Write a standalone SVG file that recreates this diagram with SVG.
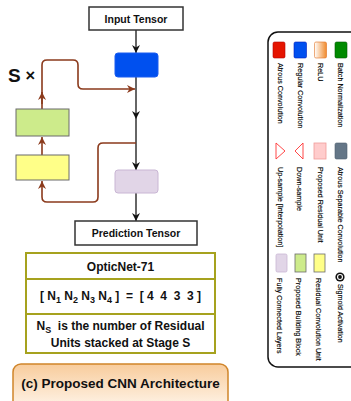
<svg xmlns="http://www.w3.org/2000/svg" width="351" height="401" viewBox="0 0 351 401">
<style>
.box{fill:#fff;stroke:#333;stroke-width:1.5}
.t{font-family:"Liberation Sans",Arial,sans-serif;font-weight:bold;fill:#111}
.main{fill:none;stroke:#333;stroke-width:1.5}
.br{fill:none;stroke:#8b3a1c;stroke-width:1.6}
.lg{font-family:"Liberation Sans",Arial,sans-serif;font-size:7.2px;fill:#000;stroke:#000;stroke-width:0.15}
.tb{fill:none;stroke:#a6a21e;stroke-width:2}
</style>
<defs>
<marker id="ab" viewBox="0 0 10 10" refX="10" refY="5" markerWidth="8" markerHeight="8" markerUnits="userSpaceOnUse" orient="auto"><path d="M0,0 L10,5 L0,10 L3,5 z" fill="#111"/></marker>
<marker id="ar" viewBox="0 0 10 10" refX="10" refY="5" markerWidth="8" markerHeight="8" markerUnits="userSpaceOnUse" orient="auto"><path d="M0,0 L10,5 L0,10 L3,5 z" fill="#8b3a1c"/></marker>
<linearGradient id="relu" x1="0" y1="0" x2="1" y2="0"><stop offset="0" stop-color="#fff"/><stop offset="1" stop-color="#f08a2c"/></linearGradient>
<linearGradient id="cap" x1="0" y1="0" x2="0" y2="1"><stop offset="0" stop-color="#f8cc9c"/><stop offset="1" stop-color="#fff6ec"/></linearGradient>
</defs>

<g id="connectors">
<line class="main" x1="136" y1="30" x2="136" y2="53" marker-end="url(#ab)"/>
<line class="main" x1="136" y1="77" x2="136" y2="119" marker-end="url(#ab)"/>
<line class="main" x1="136" y1="119" x2="136" y2="170" marker-end="url(#ab)"/>
<line class="main" x1="136" y1="193" x2="136" y2="221" marker-end="url(#ab)"/>
<path class="br" d="M136,143 H103 Q98,143 98,148 V197 Q98,202 93,202 H47 Q42,202 42,197 V181" marker-end="url(#ar)"/>
<path class="br" d="M42,155 V137" marker-end="url(#ar)"/>
<path class="br" d="M42,109 V65 Q42,60 47,60 H73 Q78,60 78,65 V84 Q78,89 83,89 H135" marker-end="url(#ar)"/>
<path class="br" d="M42,104 V92" marker-end="url(#ar)"/>
</g>

<g id="input-tensor"><rect class="box" x="89" y="7" width="94" height="23"/><text class="t" x="136" y="22.5" font-size="10.5" text-anchor="middle">Input Tensor</text></g>
<g id="regular-conv"><rect x="115" y="53" width="43" height="24" rx="3" fill="#0050ef" stroke="#1a5cf0"/></g>
<g id="fc-layer"><rect x="115" y="170" width="43" height="23" rx="3" fill="#e1d5e7" stroke="#c9b6d4"/></g>
<g id="prediction-tensor"><rect class="box" x="75" y="221" width="122" height="24"/><text class="t" x="136" y="237" font-size="10.5" text-anchor="middle">Prediction Tensor</text></g>
<g id="building-block"><rect x="16" y="109" width="53" height="27" fill="#cdeb8b" stroke="#6b6b6b"/></g>
<g id="residual-conv"><rect x="16" y="155" width="53" height="25" fill="#ffff88" stroke="#6b6b6b"/></g>
<g id="s-times"><text class="t" x="8" y="82" font-size="19">S</text><text class="t" x="25.5" y="81" font-size="16.5">×</text></g>

<g id="table">
<rect class="tb" x="26" y="253" width="189" height="100"/>
<line class="tb" x1="26" y1="279" x2="215" y2="279"/>
<line class="tb" x1="26" y1="314" x2="215" y2="314"/>
<text class="t" x="120.5" y="271" font-size="12" text-anchor="middle">OpticNet-71</text>
<text class="t" x="120.5" y="300" font-size="12" text-anchor="middle" style="white-space:pre">[ N<tspan font-size="9" dy="3">1</tspan><tspan dy="-3"> N</tspan><tspan font-size="9" dy="3">2</tspan><tspan dy="-3"> N</tspan><tspan font-size="9" dy="3">3</tspan><tspan dy="-3"> N</tspan><tspan font-size="9" dy="3">4</tspan><tspan dy="-3"> ]  =  [ 4  4  3  3 ]</tspan></text>
<text class="t" x="120.5" y="330" font-size="12" text-anchor="middle" style="white-space:pre">N<tspan font-size="9" dy="3">S</tspan><tspan dy="-3">  is the number of Residual</tspan></text>
<text class="t" x="120.5" y="347" font-size="12" text-anchor="middle">Units stacked at Stage S</text>
</g>

<g id="caption"><rect x="13" y="364" width="215" height="46" rx="8" fill="url(#cap)" stroke="#d0852a" stroke-width="1.5"/><text class="t" x="120.5" y="388" font-size="13.5" text-anchor="middle">(c) Proposed CNN Architecture</text></g>

<g id="legend">
<rect x="268" y="32" width="110" height="335" rx="10" fill="#fff" stroke="#111" stroke-width="1.5"/>
<rect x="273" y="42" width="12" height="16" rx="1.5" fill="#e51400" stroke="#b20000" stroke-width="0.6"/>
<rect x="294" y="42" width="12.5" height="16" rx="1.5" fill="#0050ef" stroke="#001dbc" stroke-width="0.6"/>
<rect x="314.5" y="42" width="12" height="16" rx="1.5" fill="url(#relu)" stroke="#e07020" stroke-width="0.6"/>
<rect x="335" y="42" width="12" height="16" rx="1.5" fill="#008a00" stroke="#005700" stroke-width="0.6"/>
<text class="lg" transform="translate(277.5,63) rotate(90)">Atrous Convolution</text>
<text class="lg" transform="translate(297.5,63) rotate(90)">Regular Convolution</text>
<text class="lg" transform="translate(317.5,63) rotate(90)">ReLU</text>
<text class="lg" transform="translate(337.5,63) rotate(90)">Batch Normalization</text>
<polygon points="276,143 276,159 285,151" fill="#fff" stroke="#ff3333" stroke-width="0.9"/>
<polygon points="303,143 303,159 295,151" fill="#fff" stroke="#ff3333" stroke-width="0.9"/>
<rect x="314" y="143" width="12" height="16" fill="#ffcccc" stroke="#f19c99" stroke-width="0.8"/>
<rect x="335" y="143" width="12" height="16" rx="1.5" fill="#647687" stroke="#4f5f6f" stroke-width="0.6"/>
<text class="lg" transform="translate(277.5,167) rotate(90)">Up-sample [Interpolation]</text>
<text class="lg" transform="translate(297,167) rotate(90)">Down-sample</text>
<text class="lg" transform="translate(317.5,167) rotate(90)">Proposed Residual Unit</text>
<text class="lg" transform="translate(337.5,167) rotate(90)">Atrous Separable Convolution</text>
<rect x="276" y="254" width="11" height="18" rx="1.5" fill="#e1d5e7" stroke="#c9b6d4" stroke-width="0.8"/>
<rect x="295" y="254" width="11" height="18" fill="#cdeb8b" stroke="#6b6b6b" stroke-width="0.8"/>
<rect x="314" y="254" width="11" height="18" fill="#ffff88" stroke="#6b6b6b" stroke-width="0.8"/>
<circle cx="340" cy="277" r="4.6" fill="#111"/>
<circle cx="340" cy="277" r="3" fill="#fff"/>
<circle cx="340" cy="277" r="1.9" fill="#111"/>
<text class="lg" transform="translate(277,278) rotate(90)">Fully Connected Layers</text>
<text class="lg" transform="translate(296,278) rotate(90)">Proposed Building Block</text>
<text class="lg" transform="translate(316,278) rotate(90)">Residual Convolution Unit</text>
<text class="lg" transform="translate(337.5,284) rotate(90)">Sigmoid Activation</text>
</g>
</svg>
